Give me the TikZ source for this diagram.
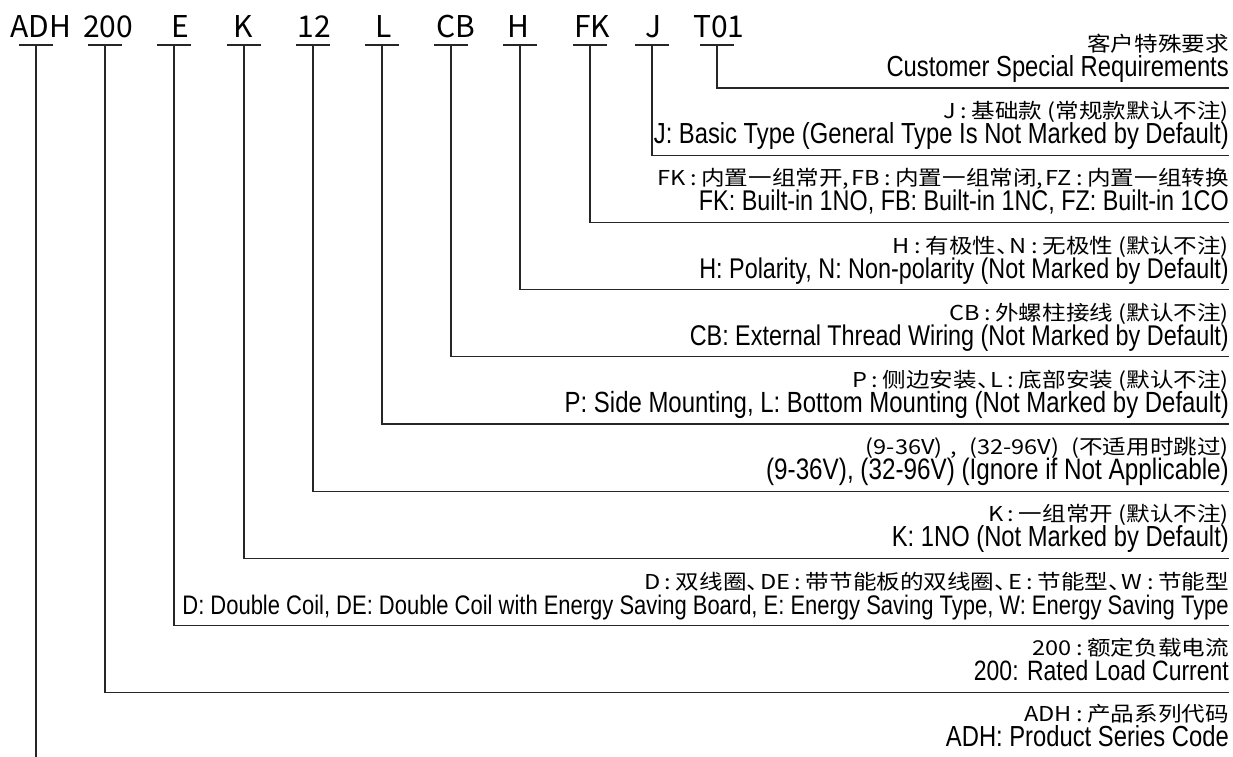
\documentclass[tikz,border=0pt]{standalone}
\usepackage{fontspec}
\setmainfont{Liberation Sans}[FakeStretch=0.82]
\newfontfamily\cjk{Noto Sans CJK SC}[FakeStretch=1.15]
\newfontfamily\codefont{Noto Sans CJK SC}
\newcommand\cc{\kern4.5pt:\kern4.5pt}
\newcommand\dn{、\kern-10pt}
\newcommand\fs[1]{\fontsize{#1pt}{#1pt}\selectfont}
\begin{document}
\begin{tikzpicture}[x=1pt,y=-1pt,
  code/.style={anchor=base,inner sep=0pt,font=\codefont\fontsize{30pt}{34pt}\selectfont},
  cn/.style={anchor=base east,inner sep=0pt,yshift=1.5pt,font=\cjk\fontsize{20.5pt}{24pt}\selectfont},
  en/.style={anchor=base east,inner sep=0pt,yshift=-0.5pt,font=\fontsize{29pt}{32pt}\selectfont},
  lead/.style={draw=black!85,line width=1.2pt},
]
\useasboundingbox (0,0) rectangle (1233,756);
% codes
\node[code] (cADH) at (41,37) {ADH};
\node[code] (c200) at (108,37) {200};
\node[code] (cE) at (180,37) {E};
\node[code] (cK) at (243,37) {K};
\node[code] (c12) at (314,37) {12};
\node[code] (cL) at (384,37) {L};
\node[code] (cCB) at (456,37) {CB};
\node[code] (cH) at (518,37) {H};
\node[code] (cFK) at (592,37) {FK};
\node[code] (cJ) at (654,37) {J};
\node[code] (cT) at (719,37) {T01};
% underline centres
\coordinate (uADH) at (36,45);
\coordinate (u200) at (105,45);
\coordinate (uE) at (174,45);
\coordinate (uK) at (244,45);
\coordinate (u12) at (313,45);
\coordinate (uL) at (382,45);
\coordinate (uCB) at (451,45);
\coordinate (uH) at (520,45);
\coordinate (uFK) at (590,45);
\coordinate (uJ) at (652,45);
\coordinate (uT) at (717,45);
\foreach \u in {uADH,u200,uE,uK,u12,uL,uCB,uH,uFK,uJ,uT}{
  \draw[lead] ([xshift=-17pt]\u) -- ([xshift=17pt]\u);
}
% line ends
\coordinate (eT) at (1229,88);
\coordinate (eJ) at (1229,155.2);
\coordinate (eFK) at (1229,222.4);
\coordinate (eH) at (1229,289.6);
\coordinate (eCB) at (1229,356.8);
\coordinate (eL) at (1229,424);
\coordinate (e12) at (1229,491.2);
\coordinate (eK) at (1229,558.4);
\coordinate (eE) at (1229,625.6);
\coordinate (e200) at (1229,692.8);
\coordinate (eADH) at (36,757);
\draw[lead] (uT) |- (eT);
\draw[lead] (uJ) |- (eJ);
\draw[lead] (uFK) |- (eFK);
\draw[lead] (uH) |- (eH);
\draw[lead] (uCB) |- (eCB);
\draw[lead] (uL) |- (eL);
\draw[lead] (u12) |- (e12);
\draw[lead] (uK) |- (eK);
\draw[lead] (uE) |- (eE);
\draw[lead] (u200) |- (e200);
\draw[lead] (uADH) -- (eADH);
% descriptions
\node[cn] (dTc) at (1229,53) {客户特殊要求};
\node[en] (dTe) at (1229,76) {Customer Special Requirements};
\node[cn] (dJc) at (1229,120.2) {J\cc 基础款 (常规款默认不注)};
\node[en] (dJe) at (1229,143.2) {J: Basic Type (General Type Is Not Marked by Default)};
\node[cn] (dFKc) at (1229,187.4) {FK\cc 内置一组常开,\kern2pt FB\cc 内置一组常闭,\kern2pt FZ\cc 内置一组转换};
\node[en] (dFKe) at (1229,210.4) {\fs{28.5}FK: Built-in 1NO, FB: Built-in 1NC, FZ: Built-in 1CO};
\node[cn] (dHc) at (1229,254.6) {H\cc 有极性\dn N\cc 无极性 (默认不注)};
\node[en] (dHe) at (1229,277.6) {\fs{28.5}H: Polarity, N: Non-polarity (Not Marked by Default)};
\node[cn] (dCBc) at (1229,321.8) {CB\cc 外螺柱接线 (默认不注)};
\node[en] (dCBe) at (1229,344.8) {\fs{28.5}CB: External Thread Wiring (Not Marked by Default)};
\node[cn] (dLc) at (1229,389) {P\cc 侧边安装\dn L\cc 底部安装 (默认不注)};
\node[en] (dLe) at (1229,412) {\fs{29.2}P: Side Mounting, L: Bottom Mounting (Not Marked by Default)};
\node[cn] (d12c) at (1229,456.2) {(9-36V)\kern8pt,\kern12pt(32-96V)\kern12pt(不适用时跳过)};
\node[en] (d12e) at (1229,479.2) {\fs{29.6}(9-36V), (32-96V) (Ignore if Not Applicable)};
\node[cn] (dKc) at (1229,523.4) {K\cc 一组常开 (默认不注)};
\node[en] (dKe) at (1229,546.4) {K: 1NO (Not Marked by Default)};
\node[cn] (dEc) at (1229,590.6) {D\cc 双线圈\dn DE\cc 带节能板的双线圈\dn E\cc 节能型\dn W\cc 节能型};
\node[en] (dEe) at (1229,613.6) {\fs{26.8}D: Double Coil, DE: Double Coil with Energy Saving Board, E: Energy Saving Type, W: Energy Saving Type};
\node[cn] (d200c) at (1229,656.8) {200\cc 额定负载电流};
\node[en] (d200e) at (1229,679.8) {\fs{28}200: Rated Load Current};
\node[cn] (dADHc) at (1229,723) {ADH\cc 产品系列代码};
\node[en] (dADHe) at (1229,746) {ADH: Product Series Code};
\end{tikzpicture}
\end{document}
